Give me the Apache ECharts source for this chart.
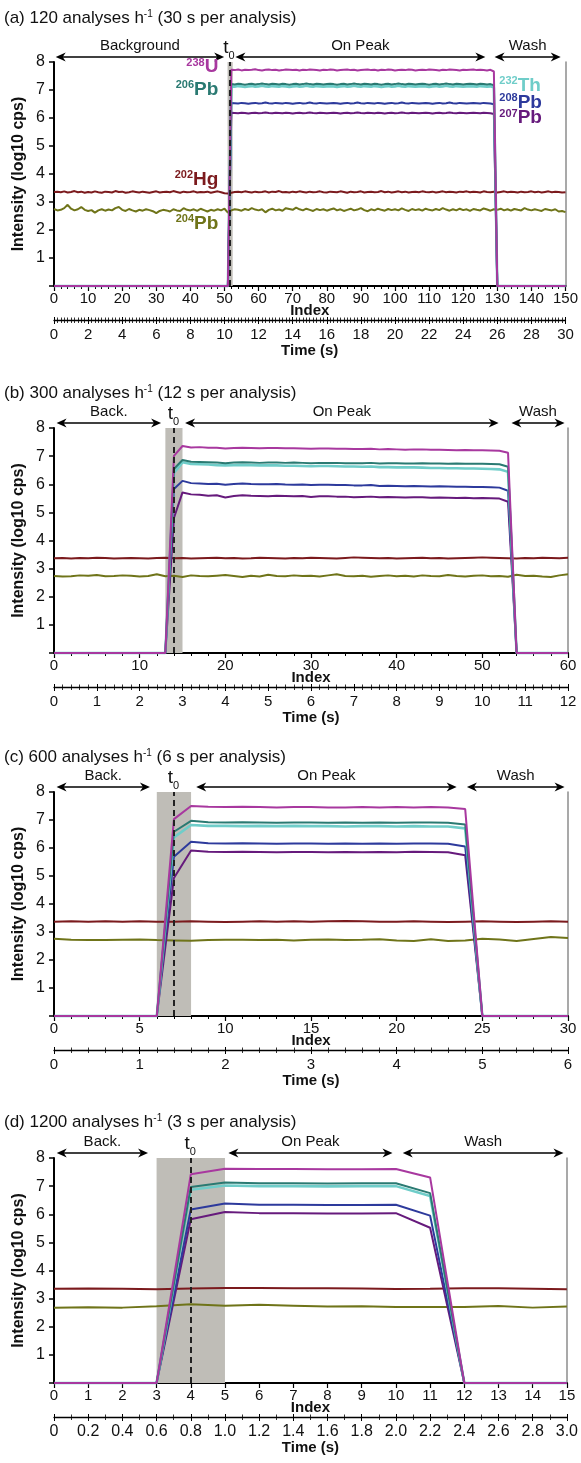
<!DOCTYPE html>
<html>
<head>
<meta charset="utf-8">
<title>LA-ICP-MS signal at different analysis rates</title>
<script src="https://cdn.jsdelivr.net/npm/echarts/dist/echarts.min.js"></script>
<style>
  html, body { margin: 0; padding: 0; background: #fff; }
  #chart { width: 581px; height: 1463px; }
</style>
</head>
<body>
<div id="chart"></div>
<script>
// ---------------------------------------------------------------
// Signal intensities (log10 cps) per scan index, one array per isotope.
// ---------------------------------------------------------------

// (a) 120 analyses per hour, 150 scans over 30 s
const Hg202_a = [
  3.36,3.37,3.35,3.38,3.34,3.36,3.39,3.35,3.37,3.33,
  3.36,3.34,3.38,3.35,3.33,3.37,3.36,3.34,3.39,3.36,
  3.37,3.33,3.35,3.38,3.36,3.34,3.37,3.35,3.33,3.36,
  3.38,3.34,3.36,3.37,3.35,3.39,3.36,3.33,3.37,3.35,
  3.36,3.38,3.34,3.36,3.35,3.37,3.33,3.36,3.38,3.35,
  3.31,3.30,3.33,3.36,3.37,3.35,3.38,3.36,3.34,3.37,
  3.35,3.36,3.38,3.34,3.37,3.36,3.39,3.35,3.36,3.34,
  3.37,3.35,3.38,3.36,3.34,3.37,3.35,3.36,3.38,3.35,
  3.34,3.37,3.36,3.35,3.38,3.36,3.33,3.37,3.35,3.36,
  3.38,3.34,3.36,3.37,3.35,3.36,3.39,3.35,3.37,3.34,
  3.36,3.38,3.35,3.37,3.34,3.36,3.37,3.35,3.38,3.36,
  3.35,3.37,3.34,3.36,3.38,3.35,3.37,3.36,3.34,3.37,
  3.36,3.38,3.35,3.37,3.36,3.34,3.38,3.36,3.35,3.37,
  3.34,3.36,3.38,3.35,3.37,3.36,3.34,3.37,3.35,3.36,
  3.38,3.35,3.37,3.34,3.36,3.38,3.35,3.37,3.36,3.34,3.35
];
const Pb204_a = [
  2.75,2.70,2.72,2.78,2.90,2.76,2.70,2.74,2.82,2.72,
  2.68,2.71,2.62,2.70,2.74,2.69,2.73,2.70,2.78,2.82,
  2.72,2.68,2.75,2.70,2.66,2.72,2.69,2.74,2.71,2.67,
  2.60,2.68,2.72,2.70,2.66,2.74,2.70,2.68,2.78,2.72,
  2.70,2.74,2.68,2.76,2.71,2.66,2.72,2.69,2.74,2.70,
  2.76,2.62,2.70,2.74,2.72,2.69,2.75,2.71,2.78,2.73,
  2.70,2.74,2.63,2.72,2.76,2.70,2.73,2.69,2.78,2.75,
  2.72,2.80,2.74,2.70,2.76,2.72,2.68,2.75,2.71,2.74,
  2.69,2.73,2.77,2.70,2.74,2.68,2.72,2.76,2.70,2.73,
  2.78,2.71,2.67,2.74,2.70,2.76,2.72,2.69,2.75,2.71,
  2.74,2.70,2.77,2.72,2.68,2.75,2.71,2.74,2.69,2.76,
  2.72,2.70,2.75,2.71,2.78,2.73,2.69,2.74,2.70,2.76,
  2.71,2.74,2.68,2.75,2.72,2.70,2.77,2.73,2.69,2.74,
  2.72,2.76,2.70,2.74,2.69,2.75,2.72,2.70,2.78,2.73,
  2.70,2.74,2.71,2.68,2.75,2.72,2.70,2.74,2.66,2.68,2.64
];
const Pb207_a = [
  0,0,0,0,0,0,0,0,0,0, 0,0,0,0,0,0,0,0,0,0, 0,0,0,0,0,0,0,0,0,0,
  0,0,0,0,0,0,0,0,0,0, 0,0,0,0,0,0,0,0,0,0, 0,0,
  6.19,6.18,6.17,6.19,6.18,6.16,6.18,6.19,6.17,6.18,
  6.20,6.18,6.17,6.19,6.18,6.17,6.19,6.18,6.16,6.18,
  6.19,6.17,6.18,6.20,6.18,6.17,6.19,6.18,6.17,6.18,
  6.19,6.18,6.16,6.18,6.19,6.17,6.18,6.20,6.18,6.17,
  6.19,6.18,6.17,6.19,6.18,6.16,6.18,6.19,6.17,6.18,
  6.20,6.18,6.17,6.19,6.18,6.17,6.18,6.19,6.18,6.16,
  6.18,6.19,6.17,6.18,6.20,6.18,6.17,6.19,6.18,6.17,
  6.18,6.19,6.18,6.17,6.19,6.18,6.17,6.14,
  0,0,0,0,0,0,0,0,0,0, 0,0,0,0,0,0,0,0,0,0, 0
];
const Pb208_a = [
  0,0,0,0,0,0,0,0,0,0, 0,0,0,0,0,0,0,0,0,0, 0,0,0,0,0,0,0,0,0,0,
  0,0,0,0,0,0,0,0,0,0, 0,0,0,0,0,0,0,0,0,0, 0,0,
  6.54,6.53,6.52,6.54,6.53,6.51,6.53,6.54,6.52,6.53,
  6.55,6.53,6.52,6.54,6.53,6.52,6.54,6.53,6.51,6.53,
  6.54,6.52,6.53,6.55,6.53,6.52,6.54,6.53,6.52,6.53,
  6.54,6.53,6.51,6.53,6.54,6.52,6.53,6.55,6.53,6.52,
  6.54,6.53,6.52,6.54,6.53,6.51,6.53,6.54,6.52,6.53,
  6.55,6.53,6.52,6.54,6.53,6.52,6.53,6.54,6.53,6.51,
  6.53,6.54,6.52,6.53,6.55,6.53,6.52,6.54,6.53,6.52,
  6.53,6.54,6.53,6.52,6.54,6.53,6.52,6.49,
  0,0,0,0,0,0,0,0,0,0, 0,0,0,0,0,0,0,0,0,0, 0
];
const Th232_a = [
  0,0,0,0,0,0,0,0,0,0, 0,0,0,0,0,0,0,0,0,0, 0,0,0,0,0,0,0,0,0,0,
  0,0,0,0,0,0,0,0,0,0, 0,0,0,0,0,0,0,0,0,0, 0,0,
  7.13,7.12,7.14,7.13,7.11,7.13,7.14,7.12,7.13,7.15,
  7.13,7.12,7.14,7.13,7.12,7.14,7.13,7.11,7.13,7.14,
  7.12,7.13,7.15,7.13,7.12,7.14,7.13,7.12,7.13,7.14,
  7.13,7.11,7.13,7.14,7.12,7.13,7.15,7.13,7.12,7.14,
  7.13,7.12,7.14,7.13,7.11,7.13,7.14,7.12,7.13,7.15,
  7.13,7.12,7.14,7.13,7.12,7.13,7.14,7.13,7.11,7.13,
  7.14,7.12,7.13,7.15,7.13,7.12,7.14,7.13,7.12,7.13,
  7.14,7.13,7.12,7.14,7.13,7.12,7.13,7.09,
  0,0,0,0,0,0,0,0,0,0, 0,0,0,0,0,0,0,0,0,0, 0
];
const Pb206_a = [
  0,0,0,0,0,0,0,0,0,0, 0,0,0,0,0,0,0,0,0,0, 0,0,0,0,0,0,0,0,0,0,
  0,0,0,0,0,0,0,0,0,0, 0,0,0,0,0,0,0,0,0,0, 0,0,
  7.21,7.20,7.22,7.21,7.19,7.21,7.22,7.20,7.21,7.23,
  7.21,7.20,7.22,7.21,7.20,7.22,7.21,7.19,7.21,7.22,
  7.20,7.21,7.23,7.21,7.20,7.22,7.21,7.20,7.21,7.22,
  7.21,7.19,7.21,7.22,7.20,7.21,7.23,7.21,7.20,7.22,
  7.21,7.20,7.22,7.21,7.19,7.21,7.22,7.20,7.21,7.23,
  7.21,7.20,7.22,7.21,7.20,7.21,7.22,7.21,7.19,7.21,
  7.22,7.20,7.21,7.23,7.21,7.20,7.22,7.21,7.20,7.21,
  7.22,7.21,7.20,7.22,7.21,7.20,7.21,7.17,
  0,0,0,0,0,0,0,0,0,0, 0,0,0,0,0,0,0,0,0,0, 0
];
const U238_a = [
  0,0,0,0,0,0,0,0,0,0, 0,0,0,0,0,0,0,0,0,0, 0,0,0,0,0,0,0,0,0,0,
  0,0,0,0,0,0,0,0,0,0, 0,0,0,0,0,0,0,0,0,0, 0,0,
  7.72,7.71,7.73,7.70,7.72,7.71,7.72,7.74,7.71,7.70,
  7.72,7.73,7.71,7.72,7.70,7.71,7.73,7.72,7.71,7.72,
  7.70,7.72,7.71,7.73,7.72,7.71,7.70,7.72,7.71,7.73,
  7.72,7.70,7.71,7.72,7.73,7.71,7.72,7.70,7.71,7.72,
  7.73,7.71,7.72,7.70,7.72,7.71,7.73,7.72,7.70,7.71,
  7.72,7.71,7.73,7.72,7.70,7.71,7.72,7.71,7.73,7.72,
  7.71,7.70,7.72,7.71,7.73,7.72,7.71,7.70,7.72,7.71,
  7.72,7.73,7.71,7.72,7.71,7.70,7.72,7.66,
  0,0,0,0,0,0,0,0,0,0, 0,0,0,0,0,0,0,0,0,0, 0
];

// (b) 300 analyses per hour, 60 scans over 12 s
const Hg202_b = [
  3.37,3.38,3.36,3.38,3.37,3.39,3.38,3.36,3.37,3.38,
  3.37,3.36,3.38,3.39,3.37,3.38,3.36,3.37,3.38,3.39,
  3.37,3.38,3.36,3.37,3.39,3.38,3.37,3.36,3.38,3.37,
  3.39,3.38,3.37,3.36,3.38,3.40,3.39,3.38,3.37,3.38,
  3.36,3.37,3.38,3.39,3.37,3.38,3.36,3.37,3.38,3.39,
  3.40,3.39,3.38,3.37,3.36,3.38,3.37,3.39,3.38,3.37,3.39
];
const Pb204_b = [
  2.74,2.72,2.73,2.76,2.75,2.77,2.73,2.74,2.76,2.75,
  2.72,2.74,2.80,2.73,2.75,2.70,2.76,2.74,2.73,2.75,
  2.77,2.74,2.70,2.75,2.72,2.78,2.74,2.73,2.76,2.74,
  2.75,2.72,2.76,2.80,2.74,2.73,2.75,2.71,2.74,2.76,
  2.73,2.75,2.72,2.76,2.74,2.73,2.77,2.74,2.72,2.75,
  2.76,2.73,2.74,2.71,2.78,2.74,2.75,2.72,2.70,2.76,2.80
];
const Pb207_b = [
  0,0,0,0,0,0,0,0,0,0,0,0,0,0,
  4.80, 5.71,
  5.64,5.63,5.59,5.61,5.53,5.58,5.61,5.59,5.58,5.57,
  5.59,5.58,5.57,5.58,5.55,5.57,5.57,5.56,5.56,5.54,
  5.55,5.56,5.54,5.55,5.54,5.53,5.54,5.54,5.52,5.53,
  5.52,5.51,5.52,5.50,5.51,5.50,5.49,
  5.38,
  0,0,0,0,0,0,0
];
const Pb208_b = [
  0,0,0,0,0,0,0,0,0,0,0,0,0,0,
  5.83, 6.12,
  6.04,6.03,6.01,6.02,5.98,6.01,6.03,6.01,6.00,6.00,
  6.01,5.99,5.98,5.99,5.97,5.98,5.98,5.97,5.97,5.96,
  5.96,5.97,5.94,5.95,5.94,5.93,5.94,5.93,5.92,5.93,
  5.92,5.91,5.91,5.90,5.90,5.89,5.88,
  5.77,
  0,0,0,0,0,0,0
];
const Th232_b = [
  0,0,0,0,0,0,0,0,0,0,0,0,0,0,
  6.40, 6.78,
  6.72,6.71,6.70,6.68,6.67,6.68,6.69,6.68,6.67,6.67,
  6.67,6.66,6.66,6.65,6.64,6.65,6.65,6.64,6.63,6.63,
  6.62,6.63,6.61,6.61,6.60,6.60,6.60,6.59,6.58,6.58,
  6.57,6.57,6.56,6.56,6.55,6.54,6.53,
  6.44,
  0,0,0,0,0,0,0
];
const Pb206_b = [
  0,0,0,0,0,0,0,0,0,0,0,0,0,0,
  6.54, 6.86,
  6.80,6.79,6.78,6.77,6.75,6.77,6.78,6.77,6.76,6.77,
  6.77,6.76,6.77,6.76,6.75,6.76,6.76,6.76,6.75,6.75,
  6.75,6.76,6.74,6.75,6.75,6.74,6.74,6.75,6.74,6.74,
  6.73,6.74,6.73,6.73,6.73,6.72,6.71,
  6.62,
  0,0,0,0,0,0,0
];
const U238_b = [
  0,0,0,0,0,0,0,0,0,0,0,0,0,0,
  7.01, 7.36,
  7.31,7.32,7.30,7.30,7.27,7.29,7.30,7.29,7.28,7.29,
  7.29,7.28,7.28,7.27,7.26,7.27,7.27,7.26,7.26,7.25,
  7.25,7.26,7.24,7.25,7.24,7.23,7.24,7.24,7.23,7.23,
  7.22,7.21,7.22,7.21,7.21,7.20,7.19,
  7.12,
  0,0,0,0,0,0,0
];

// (c) 600 analyses per hour, 30 scans over 6 s
const Hg202_c = [3.37,3.38,3.37,3.38,3.37,3.38,3.37,3.37,3.38,3.37,3.36,3.37,3.38,3.37,3.38,3.37,3.38,3.39,3.38,3.37,3.37,3.38,3.37,3.36,3.37,3.38,3.37,3.36,3.37,3.38,3.37];
const Pb204_c = [2.76,2.72,2.71,2.71,2.72,2.73,2.71,2.70,2.69,2.71,2.72,2.72,2.71,2.72,2.70,2.72,2.73,2.71,2.72,2.74,2.70,2.68,2.74,2.68,2.70,2.76,2.73,2.68,2.75,2.82,2.79];
const Pb207_c = [0,0,0,0,0,0,0, 4.93, 5.91, 5.87,5.86,5.87,5.86,5.85,5.86,5.86,5.85,5.86,5.85,5.86,5.85,5.87,5.86,5.85, 5.74, 0,0,0,0,0,0];
const Pb208_c = [0,0,0,0,0,0,0, 5.69, 6.22, 6.17,6.16,6.17,6.16,6.15,6.16,6.16,6.15,6.16,6.15,6.16,6.15,6.16,6.16,6.15, 6.05, 0,0,0,0,0,0];
const Th232_c = [0,0,0,0,0,0,0, 6.38, 6.82, 6.79,6.79,6.78,6.79,6.78,6.79,6.78,6.78,6.77,6.78,6.78,6.77,6.78,6.77,6.77, 6.70, 0,0,0,0,0,0];
const Pb206_c = [0,0,0,0,0,0,0, 6.58, 6.97, 6.92,6.91,6.92,6.91,6.90,6.91,6.91,6.90,6.91,6.90,6.91,6.90,6.91,6.91,6.90, 6.84, 0,0,0,0,0,0];
const U238_c  = [0,0,0,0,0,0,0, 7.03, 7.50, 7.47,7.46,7.47,7.46,7.45,7.46,7.46,7.45,7.45,7.46,7.45,7.46,7.45,7.46,7.45, 7.39, 0,0,0,0,0,0];

// (d) 1200 analyses per hour, 15 scans over 3 s
const Hg202_d = [3.35,3.36,3.35,3.33,3.36,3.38,3.38,3.37,3.37,3.36,3.34,3.35,3.37,3.37,3.35,3.33];
const Pb204_d = [2.68,2.69,2.68,2.73,2.80,2.75,2.78,2.75,2.72,2.73,2.70,2.70,2.70,2.74,2.68,2.72];
const Pb207_d = [0,0,0,0, 5.82, 6.08, 6.04,6.04,6.03,6.03,6.04, 5.52, 0,0,0,0];
const Pb208_d = [0,0,0,0, 6.17, 6.38, 6.34,6.34,6.33,6.33,6.34, 5.95, 0,0,0,0];
const Th232_d = [0,0,0,0, 6.87, 7.02, 7.00,7.00,6.99,7.00,7.00, 6.65, 0,0,0,0];
const Pb206_d = [0,0,0,0, 6.97, 7.13, 7.10,7.10,7.09,7.10,7.10, 6.75, 0,0,0,0];
const U238_d  = [0,0,0,0, 7.42, 7.62, 7.61,7.61,7.60,7.60,7.61, 7.31, 0,0,0,0];

// Phase boundaries in scan-index units: [start, end]
const bandA = [50.9, 52.4], t0A = 51.5;
const bandB = [13, 15],     t0B = 14;
const bandC = [6, 8],       t0C = 7;
const bandD = [3, 5],       t0D = 4;
const backA = [0.5, 49.9],  peakA = [53.2, 126.5], washA = [129.2, 148.6];
const backB = [0.3, 12.5],  peakB = [15.3, 51.9],  washB = [53.4, 59.6];
const backC = [0.15, 5.6],  peakC = [8.3, 23.5],   washC = [24.1, 29.8];
const backD = [0.08, 2.75], peakD = [5.1, 9.9],    washD = [10.2, 14.9];

// Axis extents and tick labels
const scansPerPanel = [150, 60, 30, 15];
const secondsPerPanel = [30, 12, 6, 3];
const indexStep = [10, 10, 5, 1];
const timeStep = [2, 1, 1, 0.2];
const titlesText = [
  ['(a) 120 analyses h', '-1', ' (30 s per analysis)'],
  ['(b) 300 analyses h', '-1', ' (12 s per analysis)'],
  ['(c) 600 analyses h', '-1', ' (6 s per analysis)'],
  ['(d) 1200 analyses h', '-1', ' (3 s per analysis)']
];
const backLabels = ['Background', 'Back.', 'Back.', 'Back.'];

// Isotope name tags in panel (a): [mass, element, index, intensity, side]
const tagsA = [
  ['238', 'U',  48.2, 7.82, 'right'],
  ['206', 'Pb', 48.2, 7.02, 'right'],
  ['202', 'Hg', 48.2, 3.80, 'right'],
  ['204', 'Pb', 48.2, 2.22, 'right'],
  ['232', 'Th', 130.6, 7.15, 'left'],
  ['208', 'Pb', 130.6, 6.54, 'left'],
  ['207', 'Pb', 130.6, 6.00, 'left']
];

// ---------------------------------------------------------------
// Chart construction
// ---------------------------------------------------------------
const FONT = "'Liberation Sans', Arial, sans-serif";
const COLORS = {
  Hg: '#7b1a1d', Pb204: '#6f7419', Pb207: '#661a7c', Pb208: '#2d3a9c',
  Th: '#6fcdc9', Pb206: '#2a7a72', U: '#a8389f'
};
const tagColor = { U: COLORS.U, Th: COLORS.Th, Hg: COLORS.Hg };

const panelData = [
  [Hg202_a, Pb204_a, Pb207_a, Pb208_a, Th232_a, Pb206_a, U238_a],
  [Hg202_b, Pb204_b, Pb207_b, Pb208_b, Th232_b, Pb206_b, U238_b],
  [Hg202_c, Pb204_c, Pb207_c, Pb208_c, Th232_c, Pb206_c, U238_c],
  [Hg202_d, Pb204_d, Pb207_d, Pb208_d, Th232_d, Pb206_d, U238_d]
];
const seriesStyle = [
  { name: '202Hg', color: COLORS.Hg, width: 2 },
  { name: '204Pb', color: COLORS.Pb204, width: 2 },
  { name: '207Pb', color: COLORS.Pb207, width: 2 },
  { name: '208Pb', color: COLORS.Pb208, width: 2 },
  { name: '232Th', color: COLORS.Th, width: 2.6 },
  { name: '206Pb', color: COLORS.Pb206, width: 2 },
  { name: '238U',  color: COLORS.U, width: 2 }
];
const bands = [bandA, bandB, bandC, bandD];
const t0s = [t0A, t0B, t0C, t0D];
const phases = [
  [backA, peakA, washA], [backB, peakB, washB],
  [backC, peakC, washC], [backD, peakD, washD]
];

panelData.forEach((list, p) => list.forEach((arr, k) => {
  if (arr.length !== scansPerPanel[p] + 1) {
    throw new Error('panel ' + p + ' series ' + k + ' has ' + arr.length + ' points');
  }
}));

// Layout of the four stacked panels (pixels)
const layout = [
  { top: 62,   height: 224, titleY: 18 },
  { top: 428,  height: 225, titleY: 393 },
  { top: 792,  height: 224, titleY: 757 },
  { top: 1158, height: 225, titleY: 1122 }
];
const timeOffset = 34;

const grids = [], xAxes = [], yAxes = [], series = [];
layout.forEach((L, p) => {
  grids.push({ left: 54, right: 13, top: L.top, height: L.height, containLabel: false });

  const idxMinor = [5, 5, 5, 0][p];
  const tMinor = [10, 5, 5, 2][p];
  const tFmt = p === 3 ? (v => v === 0 ? '0' : v.toFixed(1)) : (v => String(v));

  // scan index axis
  xAxes.push({
    gridIndex: p, type: 'value', position: 'bottom', min: 0, max: scansPerPanel[p],
    interval: indexStep[p],
    axisLine: { show: true, onZero: false, lineStyle: { color: '#000', width: 2 } },
    axisTick: { show: true, length: 5, lineStyle: { color: '#000', width: 1.2 } },
    minorTick: { show: idxMinor > 0, splitNumber: idxMinor || 5, length: 3, lineStyle: { color: '#000', width: 1 } },
    axisLabel: { fontSize: 15, color: '#111', fontFamily: FONT, margin: 5, hideOverlap: false },
    splitLine: { show: false },
    name: 'Index', nameLocation: 'middle', nameGap: 17, nameMoveOverlap: false,
    nameTextStyle: { fontSize: 15, fontWeight: 'bold', color: '#111', fontFamily: FONT }
  });
  // time axis (ticks below)
  xAxes.push({
    gridIndex: p, type: 'value', position: 'bottom', offset: timeOffset, min: 0,
    max: secondsPerPanel[p], interval: timeStep[p],
    axisLine: { show: true, onZero: false, lineStyle: { color: '#000', width: 1.3 } },
    axisTick: { show: true, length: 4, lineStyle: { color: '#000', width: 1 } },
    minorTick: { show: true, splitNumber: tMinor, length: 3, lineStyle: { color: '#000', width: 0.8 } },
    axisLabel: { fontSize: p === 3 ? 16 : 15, color: '#111', fontFamily: FONT, margin: 7, formatter: tFmt, hideOverlap: false },
    splitLine: { show: false },
    name: 'Time (s)', nameLocation: 'middle', nameGap: 23, nameMoveOverlap: false,
    nameTextStyle: { fontSize: 15, fontWeight: 'bold', color: '#111', fontFamily: FONT }
  });
  // time axis (ticks above the same line)
  xAxes.push({
    gridIndex: p, type: 'value', position: 'bottom', offset: timeOffset, min: 0,
    max: secondsPerPanel[p], interval: timeStep[p],
    axisLine: { show: false, onZero: false },
    axisTick: { show: true, inside: true, length: 3, lineStyle: { color: '#000', width: 1 } },
    minorTick: { show: true, splitNumber: tMinor, length: 2.5, lineStyle: { color: '#000', width: 0.8 } },
    axisLabel: { show: false },
    splitLine: { show: false }
  });

  yAxes.push({
    gridIndex: p, type: 'value', position: 'left', min: 0, max: 8, interval: 1,
    axisLine: { show: true, onZero: false, lineStyle: { color: '#000', width: 2 } },
    axisTick: { show: true, length: 5, lineStyle: { color: '#000', width: 1.5 } },
    axisLabel: { fontSize: 16, color: '#111', fontFamily: FONT, margin: 9,
                 formatter: v => v === 0 ? '' : String(v) },
    splitLine: { show: false },
    name: 'Intensity (log10 cps)', nameLocation: 'middle', nameGap: 27, nameRotate: 90,
    nameMoveOverlap: false,
    nameTextStyle: { fontSize: 16, fontWeight: 'bold', color: '#111', fontFamily: FONT }
  });
  yAxes.push({
    gridIndex: p, type: 'value', position: 'right', min: 0, max: 8, interval: 1,
    axisLine: { show: true, onZero: false, lineStyle: { color: '#8c8c8c', width: 1.5 } },
    axisTick: { show: false }, axisLabel: { show: false }, splitLine: { show: false }
  });

  // shaded t0 window and dashed t0 marker
  series.push({
    type: 'line', xAxisIndex: 3 * p, yAxisIndex: 2 * p, data: [], z: 1, silent: true,
    markArea: {
      silent: true, itemStyle: { color: '#bfbdb7', opacity: 1 },
      data: [[{ xAxis: bands[p][0] }, { xAxis: bands[p][1] }]]
    },
    markLine: {
      silent: true, symbol: ['none', 'none'], label: { show: false }, animation: false,
      lineStyle: { color: '#222', width: 2, type: [6, 4] },
      data: [{ xAxis: t0s[p] }]
    }
  });

  panelData[p].forEach((arr, k) => {
    const st = seriesStyle[k];
    series.push({
      type: 'line', name: st.name, xAxisIndex: 3 * p, yAxisIndex: 2 * p,
      data: arr.map((v, i) => [i, v]),
      showSymbol: false, symbol: 'none', clip: false, z: 3 + k * 0.01,
      lineStyle: { color: st.color, width: st.width },
      itemStyle: { color: st.color },
      emphasis: { disabled: true }
    });
  });
});

const chart = echarts.init(document.getElementById('chart'), null, { renderer: 'canvas' });
chart.setOption({
  animation: false,
  backgroundColor: '#ffffff',
  textStyle: { fontFamily: FONT },
  grid: grids, xAxis: xAxes, yAxis: yAxes, series: series
});

// Titles, phase arrows, t0 tags and isotope names
const graphics = [];
function arrowHead(x, y, dir) {
  // dir = -1 points left, +1 points right
  return {
    type: 'polygon', z: 50, silent: true,
    shape: { points: [[x, y], [x - dir * 10, y - 4.5], [x - dir * 7, y], [x - dir * 10, y + 4.5]] },
    style: { fill: '#000' }
  };
}
layout.forEach((L, p) => {
  const px = (x, y) => chart.convertToPixel({ xAxisIndex: 3 * p, yAxisIndex: 2 * p }, [x, y]);
  const topY = px(0, 8)[1];
  const ay = topY - 5;
  const t = titlesText[p];

  graphics.push({
    type: 'text', x: 4, y: L.titleY, z: 50, silent: true,
    style: {
      text: '{n|' + t[0] + '}{s|' + t[1] + '}{n|' + t[2] + '}',
      align: 'left', verticalAlign: 'middle',
      rich: {
        n: { fontSize: 17, fontFamily: FONT, fill: '#111', lineHeight: 20 },
        s: { fontSize: 10, fontFamily: FONT, fill: '#111', lineHeight: 20, verticalAlign: 'top', padding: [1, 0, 0, 0] }
      }
    }
  });

  const labels = [backLabels[p], 'On Peak', 'Wash'];
  phases[p].forEach((rng, k) => {
    const x1 = px(rng[0], 8)[0], x2 = px(rng[1], 8)[0];
    graphics.push({
      type: 'line', z: 50, silent: true,
      shape: { x1: x1 + 3, y1: ay, x2: x2 - 3, y2: ay },
      style: { stroke: '#000', lineWidth: 1.5 }
    });
    graphics.push(arrowHead(x1, ay, -1));
    graphics.push(arrowHead(x2, ay, 1));
    graphics.push({
      type: 'text', x: (x1 + x2) / 2, y: ay - 11, z: 50, silent: true,
      style: { text: labels[k], fontSize: 15, fontFamily: FONT, fill: '#111', align: 'center', verticalAlign: 'middle' }
    });
  });

  const tx = px(t0s[p], 8)[0];
  graphics.push({
    type: 'text', x: tx - 1, y: ay - 9, z: 50, silent: true,
    style: { text: 't', fontSize: 19, fontFamily: FONT, fill: '#111', align: 'right', verticalAlign: 'middle' }
  });
  graphics.push({
    type: 'text', x: tx - 1, y: ay - 1, z: 50, silent: true,
    style: { text: '0', fontSize: 11, fontFamily: FONT, fill: '#111', align: 'left', verticalAlign: 'middle' }
  });

  if (p === 0) {
    tagsA.forEach(tag => {
      const pos = px(tag[2], tag[3]);
      const el = tag[1];
      let col;
      if (el === 'Pb') {
        col = { '206': COLORS.Pb206, '204': COLORS.Pb204, '208': COLORS.Pb208, '207': COLORS.Pb207 }[tag[0]];
      } else {
        col = tagColor[el];
      }
      graphics.push({
        type: 'text', x: pos[0], y: pos[1], z: 60, silent: true,
        style: {
          text: '{s|' + tag[0] + '}{b|' + el + '}',
          align: tag[4], verticalAlign: 'middle',
          rich: {
            s: { fontSize: 11, fontWeight: 'bold', fontFamily: FONT, fill: col, lineHeight: 20, verticalAlign: 'top' },
            b: { fontSize: 19, fontWeight: 'bold', fontFamily: FONT, fill: col, lineHeight: 20 }
          }
        }
      });
    });
  }
});
chart.setOption({ graphic: graphics });
</script>
</body>
</html>
